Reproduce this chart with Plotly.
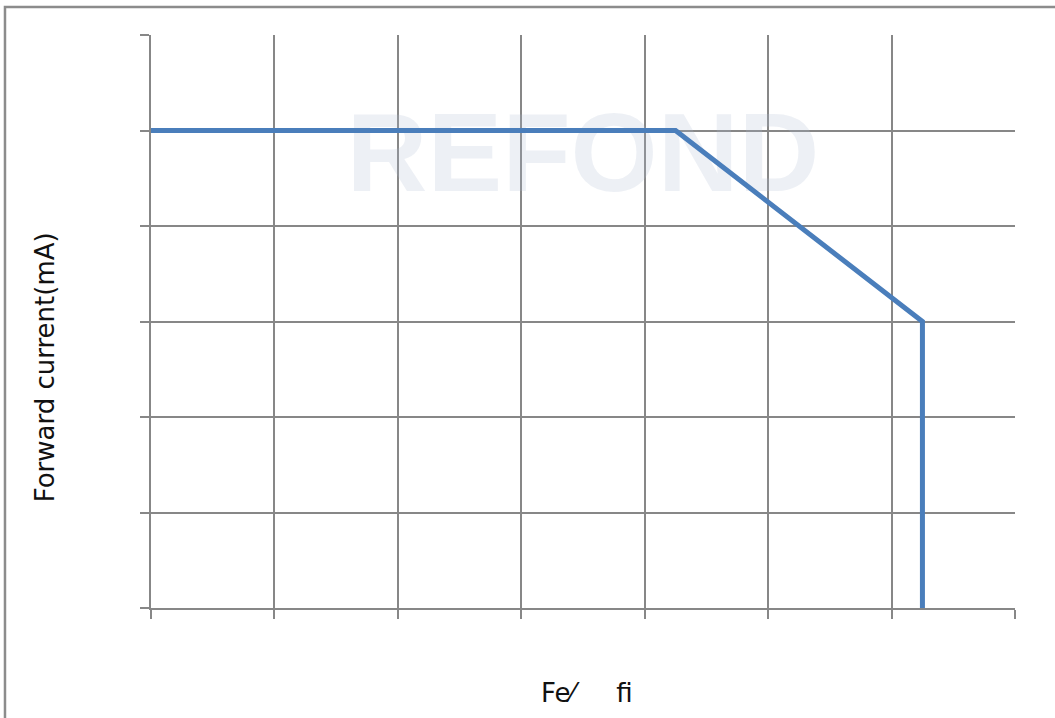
import plotly.graph_objects as go

# Derating curve: forward current vs. ambient temperature
temperature = [-40, 45, 85, 85]
forward_current = [25, 25, 15, 0]

x_ticks = [-40, -20, 0, 20, 40, 60, 80, 100]
y_ticks = [0, 5, 10, 15, 20, 25, 30]

GRID = "#878787"
LINE = "#4a7ebb"
FONT = "DejaVu Sans, Verdana, sans-serif"

fig = go.Figure()

# faint brand mark behind the curve
fig.add_trace(go.Scatter(
    x=[30], y=[23.3], mode="text", text=["<b>REFOND</b>"],
    textfont=dict(family="Liberation Sans, Arial, sans-serif", size=112,
                  color="rgba(175,185,210,0.22)"),
    hoverinfo="skip", showlegend=False,
))

fig.add_trace(go.Scatter(
    x=temperature, y=forward_current, mode="lines",
    line=dict(color=LINE, width=5), showlegend=False,
))

axis_common = dict(
    showgrid=True, gridcolor=GRID, gridwidth=2,
    showline=True, linecolor=GRID, linewidth=2, mirror=False,
    ticks="outside", ticklen=9, tickwidth=2, tickcolor=GRID,
    showticklabels=False, zeroline=False,
)

fig.update_xaxes(range=[-40, 100], tickvals=x_ticks, **axis_common)
fig.update_yaxes(range=[0, 30], tickvals=y_ticks, **axis_common)

# outer frame of the figure
fig.add_shape(type="rect", xref="paper", yref="paper",
              x0=-0.169, x1=1.3, y0=-0.4, y1=1.0489,
              line=dict(color="#8c8c8c", width=2.5), layer="below")

fig.add_annotation(
    x=-0.1227, y=0.42, xref="paper", yref="paper",
    xanchor="center", yanchor="middle",
    text="Forward current(mA)", textangle=-90, showarrow=False,
    font=dict(family=FONT, size=26, color="#111111"),
)
fig.add_annotation(
    x=0.505, y=-0.148, xref="paper", yref="paper",
    xanchor="center", yanchor="middle",
    text="Fe\u2044     fi", showarrow=False,
    font=dict(family=FONT, size=26, color="#111111"),
)

fig.update_layout(
    width=1055, height=718,
    margin=dict(l=151, r=40, t=35, b=110),
    paper_bgcolor="white", plot_bgcolor="white",
)

fig.write_html("out.html")
